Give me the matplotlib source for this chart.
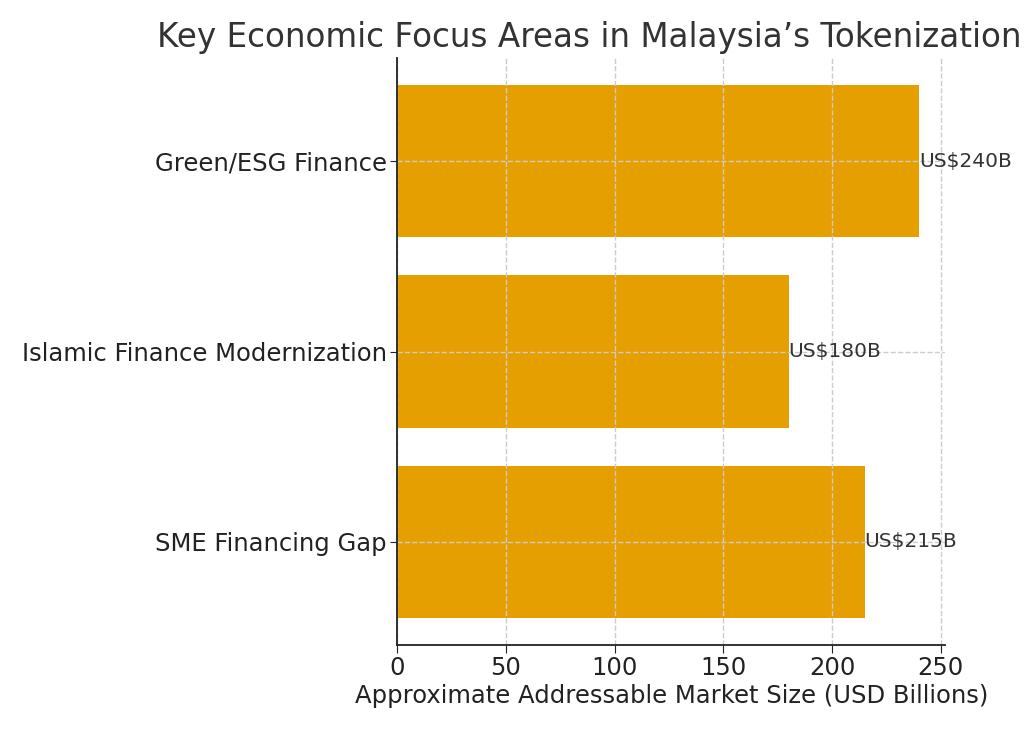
import matplotlib.pyplot as plt

categories = ["SME Financing Gap", "Islamic Finance Modernization", "Green/ESG Finance"]
values = [215, 180, 240]
labels = ["US$215B", "US$180B", "US$240B"]

fig = plt.figure(figsize=(10.24, 7.31), dpi=100)
ax = fig.add_axes([0.388, 0.118, 0.535, 0.802])

ax.barh(categories, values, color="#E69F00", height=0.8)
for v, lab, y in zip(values, labels, range(len(values))):
    ax.text(v, y, lab, va="center", ha="left", fontsize=14.5, color="#333333")

ax.set_xlim(0, 252)
ax.set_xticks([0, 50, 100, 150, 200, 250])
ax.set_xlabel("Approximate Addressable Market Size (USD Billions)", fontsize=17.5,
              color="#222222", labelpad=3)
ax.tick_params(axis="both", labelsize=17.5, colors="#222222", length=6)
ax.tick_params(axis="y", pad=2.5, length=5)
ax.tick_params(axis="x", pad=2)
ax.grid(True, linestyle="--", color="#cccccc", linewidth=1)
ax.set_axisbelow(False)
for s in ["top", "right"]:
    ax.spines[s].set_visible(False)
for s in ["left", "bottom"]:
    ax.spines[s].set_color("#222222")
    ax.spines[s].set_linewidth(1.3)
    ax.spines[s].set_zorder(5)

fig.text(0.575, 0.949, "Key Economic Focus Areas in Malaysia\u2019s Tokenization",
         ha="center", va="center", fontsize=23.5, color="#333333")

plt.savefig("out.png", dpi=100)
plt.close()
